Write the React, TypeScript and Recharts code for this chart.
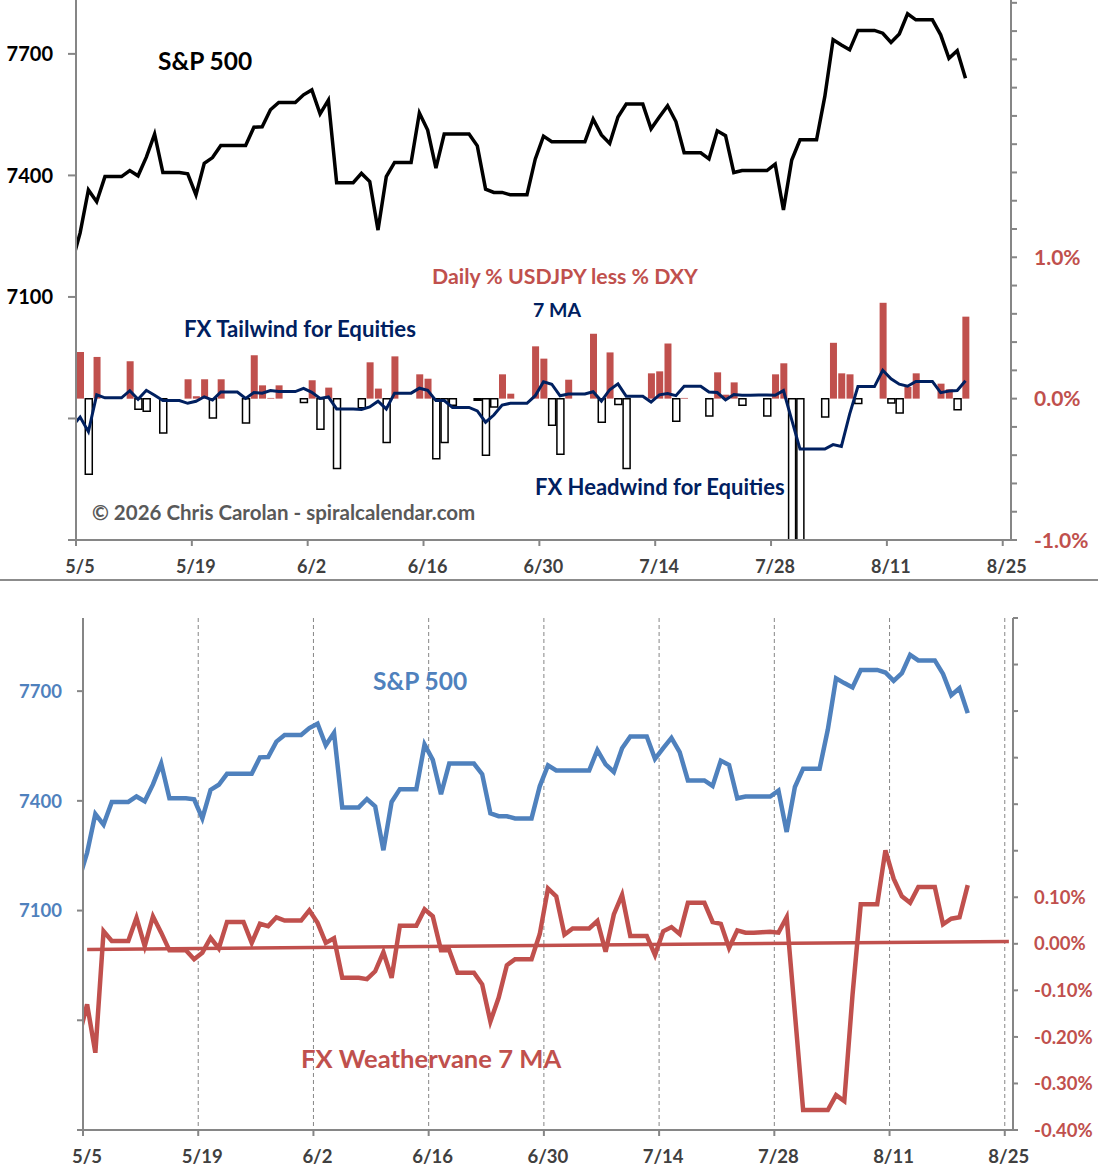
import React from 'react';
import { ComposedChart, Line, Bar, Cell, XAxis, YAxis, CartesianGrid } from 'recharts';

const FONT = 'Lato, "Noto Sans", sans-serif';
const RED = '#C0504D';
const BLUE = '#4F81BD';
const NAVY = '#002060';
const AXIS = '#868686';
const LABEL_GREY = '#404040';

// daily calendar, weekends carried forward. first value is 5/4, last is 8/20
const spx = [
  7184, 7258, 7364, 7335, 7397, 7397, 7397, 7412, 7399, 7445, 7502, 7407, 7407, 7407,
  7404, 7352, 7430, 7444, 7474, 7474, 7474, 7474, 7519, 7520, 7562, 7580, 7580, 7580,
  7599, 7611, 7552, 7586, 7382, 7382, 7382, 7405, 7385, 7265, 7397, 7432, 7432, 7432,
  7554, 7512, 7418, 7502, 7502, 7502, 7502, 7473, 7366, 7358, 7358, 7352, 7352, 7352,
  7440, 7497, 7483, 7483, 7483, 7483, 7483, 7539, 7500, 7479, 7544, 7576, 7576, 7576,
  7515, 7544, 7572, 7533, 7456, 7456, 7456, 7441, 7510, 7498, 7407, 7412, 7412, 7412,
  7412, 7428, 7315, 7438, 7488, 7488, 7488, 7595, 7735, 7722, 7710, 7758, 7758, 7758,
  7751, 7728, 7749, 7799, 7784, 7784, 7784, 7747, 7689, 7708, 7640,
];

// FX weathervane 7 day MA (%), 5/4 .. 8/20
const fxMa = [
  -0.2, -0.13, -0.234, 0.027, 0.006, 0.006, 0.006, 0.056, -0.005, 0.059, 0.024, -0.014, -0.014, -0.014,
  -0.033, -0.019, 0.013, -0.01, 0.047, 0.047, 0.047, 0.002, 0.043, 0.038, 0.057, 0.05, 0.05, 0.05,
  0.072, 0.045, 0.002, 0.012, -0.073, -0.073, -0.073, -0.076, -0.059, -0.018, -0.073, 0.039, 0.039, 0.039,
  0.074, 0.059, -0.014, -0.014, -0.062, -0.062, -0.062, -0.087, -0.167, -0.116, -0.046, -0.033, -0.033, -0.033,
  0.021, 0.119, 0.102, 0.02, 0.033, 0.033, 0.033, 0.049, -0.017, 0.063, 0.105, 0.017, 0.017, 0.017,
  -0.024, 0.027, 0.036, 0.021, 0.088, 0.088, 0.088, 0.047, 0.043, -0.009, 0.029, 0.024, 0.024, 0.025,
  0.026, 0.024, 0.057, -0.15, -0.357, -0.357, -0.357, -0.357, -0.325, -0.338, -0.11, 0.085, 0.085, 0.085,
  0.201, 0.14, 0.102, 0.088, 0.122, 0.122, 0.122, 0.042, 0.054, 0.057, 0.126,
];

// daily % USDJPY less % DXY, 5/5 .. 8/20 (null = no print)
const fxDaily = [
  0.33, -0.535, 0.295, null, null, null, 0.264, -0.075, -0.09, null, -0.243, null, null, 0.137,
  0.017, 0.137, -0.137, 0.137, null, null, -0.172, 0.307, 0.094, 0.005, 0.094, null, null, -0.028,
  0.13, -0.217, 0.078, -0.494, null, null, -0.064, 0.257, 0.071, -0.311, 0.299, null, null, 0.172,
  0.141, -0.425, -0.311, -0.047, null, null, -0.012, -0.4, -0.059, 0.172, 0.035, null, null, 0.37,
  0.283, -0.188, -0.393, 0.134, null, null, 0.459, -0.167, 0.327, -0.042, -0.494, null, null, 0.179,
  0.193, 0.39, -0.16, 0.005, null, null, -0.122, 0.186, 0.028, 0.115, -0.047, null, null, -0.122,
  0.172, 0.25, -1.3, -1.3, null, null, -0.13, 0.395, 0.179, 0.172, -0.035, null, null, 0.678,
  -0.03, -0.101, 0.083, 0.179, null, null, 0.106, 0.066, -0.078, 0.58,
];

// linear trend of the weathervane, endpoints as drawn
const trendX = [0.5, 112.5];
const trendY = [-0.012, 0.005];

const xTicks = [0, 14, 28, 42, 56, 70, 84, 98, 112];
const xTickLabels = ['5/5', '5/19', '6/2', '6/16', '6/30', '7/14', '7/28', '8/11', '8/25'];

const spxTicks = [6500, 6800, 7100, 7400, 7700];
const topPctTicks = [-1.0, -0.8, -0.6, -0.4, -0.2, 0, 0.2, 0.4, 0.6, 0.8, 1.0, 1.2, 1.4, 1.6, 1.8, 2.0, 2.2, 2.4, 2.6, 2.8];
const topPctLabels = [-1.0, 0, 1.0];
const botPctTicks = [-0.4, -0.3, -0.2, -0.1, 0, 0.1, 0.2, 0.3, 0.4, 0.5, 0.6, 0.7];
const botPctLabels = [-0.4, -0.3, -0.2, -0.1, 0, 0.1];

const rows = spx.map((v, k) => ({
  x: k - 0.5,
  spx: v,
  ma: fxMa[k],
  fx: k === 0 ? null : fxDaily[k - 1],
}));

const trendRows = trendX.map((x, i) => ({ x, trend: trendY[i] }));

const axisLine = { stroke: AXIS, strokeWidth: 2 };

const xTick = (dy: number, fs: number) => (p: any) => {
  const i = xTicks.indexOf(p.payload.value);
  return (
    <text x={p.x + 4} y={p.y + dy} textAnchor="middle" fill={LABEL_GREY} fontSize={fs} fontWeight={700} fontFamily={FONT}>
      {xTickLabels[i]}
    </text>
  );
};

const yTick = (color: string, fs: number, anchor: string, fmt: (v: number) => string) => (p: any) => {
  const label = fmt(p.payload.value);
  if (!label) return <g />;
  return (
    <text x={p.x} y={p.y + fs * 0.36} textAnchor={anchor} fill={color} fontSize={fs} fontWeight={700} fontFamily={FONT}>
      {label}
    </text>
  );
};

const spxFmt = (v: number) => (v >= 7100 ? String(v) : '');
const topPctFmt = (v: number) => (topPctLabels.some((t) => Math.abs(t - v) < 1e-6) ? `${v.toFixed(1)}%` : '');
const botPctFmt = (v: number) => (botPctLabels.some((t) => Math.abs(t - v) < 1e-6) ? `${v.toFixed(2)}%` : '');

function Notes() {
  const t = (x: number, y: number, s: string, color: string, fs: number) => (
    <text x={x} y={y} fill={color} fontSize={fs} fontWeight={700} fontFamily={FONT}>
      {s}
    </text>
  );
  return (
    <svg width={1098} height={1171} style={{ position: 'absolute', left: 0, top: 0, pointerEvents: 'none' }}>
      {t(158, 70, 'S&P 500', '#000', 24.5)}
      {t(432, 284, 'Daily % USDJPY less % DXY', RED, 21.3)}
      {t(533, 317, '7 MA', NAVY, 19.5)}
      {t(184, 337, 'FX Tailwind for Equities', NAVY, 22.2)}
      {t(535, 495, 'FX Headwind for Equities', NAVY, 22)}
      {t(92, 520, '\u00a9 2026 Chris Carolan - spiralcalendar.com', '#595959', 20.5)}
      {t(373, 690, 'S&P 500', BLUE, 24.5)}
      {t(301, 1068, 'FX Weathervane 7 MA', RED, 25.6)}
    </svg>
  );
}

export default function App() {
  return (
    <div style={{ position: 'absolute', left: 0, top: 0, width: 1098, height: 1171, background: '#fff', fontFamily: FONT }}>
      <style>{'body{margin:0}'}</style>

      {/* top panel: S&P vs daily FX bars */}
      <div style={{ position: 'absolute', left: 0, top: 0 }}>
        <ComposedChart width={1098} height={580} data={rows} margin={{ top: 0, right: 0, bottom: 0, left: 0 }}>
          <XAxis
            dataKey="x"
            type="number"
            domain={[0, 113]}
            allowDataOverflow
            ticks={xTicks}
            interval={0}
            height={40}
            tickSize={6}
            axisLine={axisLine}
            tickLine={axisLine}
            tick={xTick(25, 18)}
          />
          <YAxis
            yAxisId="spx"
            orientation="left"
            width={76}
            domain={[6500, 7833]}
            allowDataOverflow
            ticks={spxTicks}
            interval={0}
            tickSize={8}
            tickMargin={15}
            axisLine={axisLine}
            tickLine={axisLine}
            tick={yTick('#000', 20, 'end', spxFmt)}
          />
          <YAxis
            yAxisId="pct"
            orientation="right"
            width={87}
            domain={[-1, 2.82]}
            allowDataOverflow
            ticks={topPctTicks}
            interval={0}
            tickSize={6}
            tickMargin={17}
            axisLine={axisLine}
            tickLine={axisLine}
            tick={yTick(RED, 21, 'start', topPctFmt)}
          />
          <Bar yAxisId="pct" dataKey="fx" barSize={7} isAnimationActive={false}>
            {rows.map((r, i) => (
              <Cell
                key={i}
                fill={r.fx != null && r.fx > 0 ? RED : '#fff'}
                stroke={r.fx != null && r.fx > 0 ? 'none' : '#000'}
                strokeWidth={1.5}
              />
            ))}
          </Bar>
          <Line yAxisId="pct" dataKey="ma" stroke={NAVY} strokeWidth={3} dot={false} isAnimationActive={false} />
          <Line yAxisId="spx" dataKey="spx" stroke="#000" strokeWidth={3.5} dot={false} isAnimationActive={false} />
        </ComposedChart>
      </div>

      <div style={{ position: 'absolute', left: 0, top: 579, width: 1098, height: 2, background: '#8c8c8c' }} />

      {/* bottom panel: S&P vs weathervane */}
      <div style={{ position: 'absolute', left: 0, top: 590 }}>
        <ComposedChart width={1098} height={581} data={rows} margin={{ top: 28, right: 0, bottom: 0, left: 0 }}>
          <CartesianGrid yAxisId="spx" horizontal={false} stroke={AXIS} strokeDasharray="4 3" />
          <XAxis
            dataKey="x"
            type="number"
            domain={[0, 113]}
            allowDataOverflow
            ticks={xTicks}
            interval={0}
            height={41}
            tickSize={6}
            axisLine={axisLine}
            tickLine={axisLine}
            tick={xTick(25, 18.5)}
          />
          <YAxis
            yAxisId="spx"
            orientation="left"
            width={83}
            domain={[6500, 7900]}
            allowDataOverflow
            ticks={spxTicks}
            interval={0}
            tickSize={6}
            tickMargin={15}
            axisLine={axisLine}
            tickLine={axisLine}
            tick={yTick(BLUE, 18.5, 'end', spxFmt)}
          />
          <YAxis
            yAxisId="pct"
            orientation="right"
            width={85}
            domain={[-0.4, 0.7]}
            allowDataOverflow
            ticks={botPctTicks}
            interval={0}
            tickSize={5}
            tickMargin={16}
            axisLine={axisLine}
            tickLine={axisLine}
            tick={yTick(RED, 18.5, 'start', botPctFmt)}
          />
          <Line
            yAxisId="pct"
            data={trendRows}
            dataKey="trend"
            stroke={RED}
            strokeWidth={3.5}
            dot={false}
            isAnimationActive={false}
          />
          <Line yAxisId="pct" dataKey="ma" stroke={RED} strokeWidth={4.5} dot={false} isAnimationActive={false} />
          <Line yAxisId="spx" dataKey="spx" stroke={BLUE} strokeWidth={4.5} dot={false} isAnimationActive={false} />
        </ComposedChart>
      </div>

      <Notes />
    </div>
  );
}
